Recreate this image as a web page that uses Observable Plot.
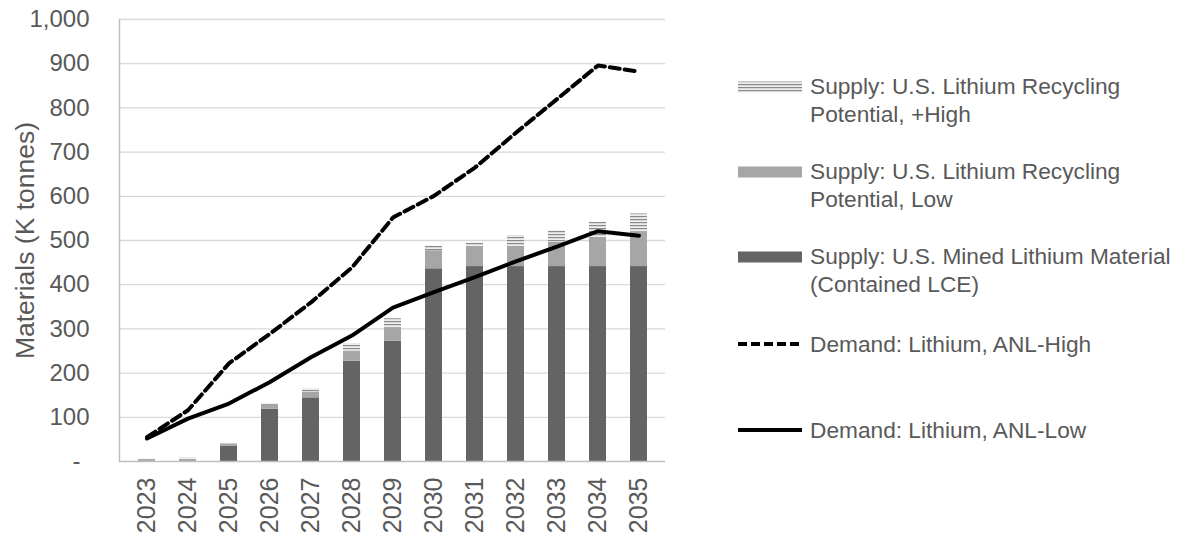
<!DOCTYPE html>
<html><head><meta charset="utf-8">
<script src="https://cdn.jsdelivr.net/npm/d3@7"></script>
<script src="https://cdn.jsdelivr.net/npm/@observablehq/plot@0.6"></script>
<style>
html,body{margin:0;padding:0;background:#fff;}
#wrap{position:relative;width:1177px;height:541px;font-family:"Liberation Sans",Arial,sans-serif;color:#595959;overflow:hidden;background:#fff}
#chart{position:absolute;left:0;top:0}
.lg{position:absolute;left:737px;font-size:22.7px;line-height:28px;white-space:nowrap;width:440px;height:60px}
.lg svg{position:absolute;left:0;top:0;overflow:visible}
.lg .t{position:absolute;left:73px;top:0}
</style></head><body>
<div id="wrap"><div id="chart"></div><div id="legend"></div></div>
<script>
// ---- data ----
const years = ["2023","2024","2025","2026","2027","2028","2029","2030","2031","2032","2033","2034","2035"];
const minedSupply   = [0, 0, 35, 118, 144, 227, 272, 436, 441, 441, 441, 441, 441];
const recycleLow    = [4, 5, 5, 11, 13, 23, 30, 41, 44, 46, 55, 66, 78];
const recycleHigh   = [2, 3, 1, 1, 7, 16, 21, 10, 9, 24, 26, 34, 41];
const demandHigh    = [55, 116, 222, 289, 360, 439, 552, 601, 665, 744, 820, 896, 882];
const demandLow     = [52, 97, 131, 180, 236, 285, 348, 383, 417, 453, 486, 521, 511];
const yTicks = [0, 100, 200, 300, 400, 500, 600, 700, 800, 900, 1000];
const seriesKeys = ["mined", "low", "high"];
const yLabel = "Materials (K tonnes)";
const legendLabels = [
  ["Supply: U.S. Lithium Recycling", "Potential, +High"],
  ["Supply: U.S. Lithium Recycling", "Potential, Low"],
  ["Supply: U.S. Mined Lithium Material", "(Contained LCE)"],
  ["Demand: Lithium, ANL-High"],
  ["Demand: Lithium, ANL-Low"]
];

// ---- tables ----
const barRows = years.flatMap((yr, i) => [
  {year: yr, series: "mined", value: minedSupply[i]},
  {year: yr, series: "low", value: recycleLow[i]},
  {year: yr, series: "high", value: recycleHigh[i]}
]);
const demandRows = years.map((yr, i) => ({year: yr, high: demandHigh[i], low: demandLow[i]}));

const FONT = '"Liberation Sans", Arial, sans-serif';
const TXT = "#595959";

const plot = Plot.plot({
  width: 725, height: 541,
  marginTop: 19, marginBottom: 80, marginLeft: 119, marginRight: 60,
  style: {fontFamily: FONT, fontSize: "24px", color: TXT, background: "white", overflow: "visible"},
  x: {type: "band", domain: years, paddingInner: 0.595, paddingOuter: 0.298, label: null},
  y: {domain: [0, 1000], label: null},
  color: {domain: seriesKeys, range: ["#646464", "#a6a6a6", "url(#hatchHigh)"]},
  marks: [
    Plot.gridY(yTicks.filter(d => d > 0), {stroke: "#d9d9d9", strokeOpacity: 1, strokeWidth: 1.3}),
    Plot.frame({anchor: "left", stroke: "#bfbfbf", strokeWidth: 1.5}),
    Plot.barY(barRows, {x: "year", y: "value", fill: "series", order: seriesKeys}),
    Plot.ruleY([0], {stroke: "#bfbfbf", strokeWidth: 1.5}),
    Plot.line(demandRows, {x: "year", y: "high", stroke: "#000", strokeWidth: 4, strokeDasharray: "10,5"}),
    Plot.line(demandRows, {x: "year", y: "low", stroke: "#000", strokeWidth: 4}),
    Plot.axisY(yTicks.filter(d => d > 0), {tickSize: 0, tickPadding: 30, tickFormat: d3.format(","), fontSize: 24, fill: TXT, label: null}),
    Plot.axisY([0], {tickSize: 0, tickPadding: 39, tickFormat: () => "-", fontSize: 24, fill: TXT, label: null}),
    Plot.axisX({tickRotate: -90, tickSize: 0, tickPadding: 16, fontSize: 25, fill: TXT, label: null}),
    Plot.text([yLabel], {text: d => d, frameAnchor: "left", textAnchor: "middle", rotate: -90, dx: -94, fontSize: 26.5, fill: TXT})
  ]
});

// hatch pattern for "+High" segment
const defs = d3.select(plot).insert("defs", ":first-child");
const pat = defs.append("pattern").attr("id", "hatchHigh").attr("patternUnits", "userSpaceOnUse")
  .attr("width", 6).attr("height", 3);
pat.append("rect").attr("width", 6).attr("height", 3).attr("fill", "#eeeeee");
pat.append("rect").attr("width", 6).attr("height", 1.2).attr("fill", "#8a8a8a");

document.getElementById("chart").appendChild(plot);

// ---- legend ----
const legendTops = [71.5, 157, 242, 330, 415.5];
const kinds = ["high", "low", "mined", "dash", "solid"];
const lg = d3.select("#legend");
legendLabels.forEach((lines, i) => {
  const item = lg.append("div").attr("class", "lg").style("top", legendTops[i] + "px");
  const s = item.append("svg").attr("width", 66).attr("height", 28);
  const k = kinds[i];
  if (k === "dash") {
    s.append("line").attr("x1", 1).attr("x2", 65).attr("y1", 14).attr("y2", 14)
      .attr("stroke", "#000").attr("stroke-width", 4).attr("stroke-dasharray", "9,4");
  } else if (k === "solid") {
    s.append("line").attr("x1", 1).attr("x2", 65).attr("y1", 14).attr("y2", 14)
      .attr("stroke", "#000").attr("stroke-width", 4);
  } else {
    const fill = k === "high" ? "url(#hatchHigh)" : k === "low" ? "#a6a6a6" : "#646464";
    s.append("rect").attr("x", 1).attr("y", 9.5).attr("width", 64).attr("height", 11).attr("fill", fill);
  }
  item.append("div").attr("class", "t").html(lines.join("<br>"));
});
</script>
</body></html>
